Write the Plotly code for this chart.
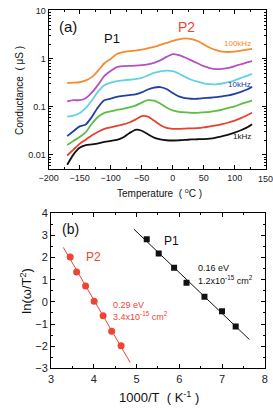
import numpy as np
import plotly.graph_objects as go

# ---------------- data: panel (a) ----------------
temps = [-170, -160, -150, -140, -130, -120, -110, -100, -90, -80, -70, -60, -50, -40, -30,
         -20, -10, 0, 10, 20, 30, 40, 50, 60, 70, 80, 90, 100, 110, 120, 128]

g_1k = [0.0062, 0.0101, 0.0140, 0.0159, 0.0165, 0.0173, 0.0186, 0.0195, 0.0204, 0.0229, 0.0282,
        0.0332, 0.0317, 0.0269, 0.0229, 0.0209, 0.0201, 0.0199, 0.0201, 0.0204, 0.0209, 0.0211,
        0.0213, 0.0218, 0.0229, 0.0245, 0.0263, 0.0289, 0.0325, 0.0373, 0.0435]
g_f2 = [0.0097, 0.0128, 0.0169, 0.0207, 0.0257, 0.0303, 0.0348, 0.0373, 0.0400, 0.0429, 0.0471,
        0.0541, 0.0637, 0.0622, 0.0516, 0.0419, 0.0365, 0.0348, 0.0348, 0.0352, 0.0356, 0.0361,
        0.0373, 0.0391, 0.0409, 0.0435, 0.0471, 0.0516, 0.0580, 0.0667, 0.0749]
g_f3 = [0.0161, 0.0195, 0.0234, 0.0296, 0.0449, 0.0622, 0.0749, 0.0804, 0.0861, 0.0903, 0.0968,
        0.106, 0.122, 0.137, 0.134, 0.117, 0.0968, 0.0842, 0.0785, 0.0767, 0.0749, 0.0749,
        0.0767, 0.0785, 0.0822, 0.0873, 0.0946, 0.102, 0.114, 0.125, 0.135]
g_10k = [0.0245, 0.0310, 0.0391, 0.0429, 0.0622, 0.0991, 0.137, 0.147, 0.161, 0.169, 0.175,
         0.181, 0.199, 0.229, 0.251, 0.257, 0.234, 0.194, 0.165, 0.151, 0.147, 0.147, 0.151,
         0.154, 0.158, 0.165, 0.173, 0.186, 0.204, 0.229, 0.260]
g_f5 = [0.0622, 0.0652, 0.0732, 0.0946, 0.137, 0.209, 0.282, 0.317, 0.343, 0.356, 0.365, 0.378,
        0.400, 0.449, 0.505, 0.546, 0.567, 0.554, 0.493, 0.419, 0.365, 0.332, 0.307, 0.296,
        0.293, 0.305, 0.324, 0.356, 0.400, 0.439, 0.482]
g_f6 = [0.129, 0.137, 0.137, 0.151, 0.199, 0.289, 0.439, 0.554, 0.667, 0.699, 0.709, 0.716,
        0.732, 0.767, 0.823, 0.924, 1.09, 1.25, 1.19, 1.06, 0.924, 0.804, 0.699, 0.637, 0.608,
        0.617, 0.643, 0.699, 0.767, 0.842, 0.895]
g_100k = [0.313, 0.317, 0.324, 0.353, 0.419, 0.567, 0.804, 0.99, 1.25, 1.37, 1.44, 1.47, 1.54,
          1.65, 1.77, 1.94, 2.13, 2.34, 2.54, 2.66, 2.57, 2.34, 1.99, 1.69, 1.51, 1.40, 1.38,
          1.40, 1.47, 1.54, 1.61]

series_a = [g_1k, g_f2, g_f3, g_10k, g_f5, g_f6, g_100k]
colors_a = ["#111111", "#E8412E", "#5CBF45", "#2140A0", "#62D2E2", "#B452C4", "#F58A2E"]
x_ticks_a = [-200, -150, -100, -50, 0, 50, 100, 150]

# ---------------- data: panel (b) ----------------
p2_x = [3.45, 3.60, 3.81, 4.01, 4.22, 4.42, 4.64]
p2_y = [2.02, 1.35, 0.71, 0.03, -0.63, -1.32, -1.98]
p2_fit_range = [3.29, 4.85]
p1_x = [5.24, 5.52, 5.88, 6.17, 6.59, 7.00, 7.32]
p1_y = [2.82, 2.18, 1.54, 0.86, 0.23, -0.42, -1.11]
p1_fit_range = [4.94, 7.64]

FONT = "Liberation Sans, Arial, sans-serif"
RED = "#EE4433"

fig = go.Figure()

for ys, c in zip(series_a, colors_a):
    fig.add_trace(go.Scatter(x=temps, y=ys, mode="lines", line=dict(color=c, width=1.8, shape="spline", smoothing=0.6),
                             xaxis="x", yaxis="y", showlegend=False, hoverinfo="skip"))

# panel b fits (least squares through the points)
for xs, ys, rng, col in [(p2_x, p2_y, p2_fit_range, RED), (p1_x, p1_y, p1_fit_range, "#111111")]:
    k, b = np.polyfit(xs, ys, 1)
    fx = np.array(rng)
    fig.add_trace(go.Scatter(x=fx, y=k * fx + b, mode="lines", line=dict(color=col, width=1),
                             xaxis="x2", yaxis="y2", showlegend=False, hoverinfo="skip"))

fig.add_trace(go.Scatter(x=p2_x, y=p2_y, mode="markers", marker=dict(color=RED, size=7, symbol="circle"),
                         xaxis="x2", yaxis="y2", showlegend=False))
fig.add_trace(go.Scatter(x=p1_x, y=p1_y, mode="markers", marker=dict(color="#111111", size=6, symbol="square"),
                         xaxis="x2", yaxis="y2", showlegend=False))

W, H = 273, 413
def px_x(v):
    return v / W
def px_y(v):
    return 1 - v / H

axis_common = dict(showline=True, linecolor="black", linewidth=1, mirror="ticks", ticks="inside",
                   ticklen=4, tickcolor="black", showgrid=False, zeroline=False,
                   tickfont=dict(family=FONT, size=9, color="#222"))

fig.update_layout(
    width=W, height=H, margin=dict(l=0, r=0, t=0, b=0),
    paper_bgcolor="white", plot_bgcolor="white",
    xaxis=dict(domain=[px_x(40.5), px_x(268.5)], anchor="y", range=[-200, 150],
               tickvals=x_ticks_a[:-1],
               minor=dict(ticks="inside", ticklen=2, dtick=25, tickcolor="black"), **axis_common),
    yaxis=dict(domain=[px_y(167.7), px_y(4.5)], anchor="x", type="log", range=[-2.291, 1.006],
               tickvals=[0.01, 0.1, 1, 10], ticktext=["0.01", "0.1", "1", "10"],
               minor=dict(ticks="inside", ticklen=2, tickcolor="black",
                          tickvals=[a * 10 ** e for e in (-3, -2, -1, 0) for a in range(2, 10)]),
               **axis_common),
    xaxis2=dict(domain=[px_x(43), px_x(267.5)], anchor="y2", range=[3, 8], dtick=1,
                minor=dict(ticks="inside", ticklen=2, dtick=0.5, tickcolor="black"),
                **{**axis_common, "tickfont": dict(family=FONT, size=11, color="#222")}),
    yaxis2=dict(domain=[px_y(373.3), px_y(213.3)], anchor="x2", range=[-3, 4], dtick=1,
                minor=dict(ticks="inside", ticklen=2, dtick=0.5, tickcolor="black"),
                **{**axis_common, "tickfont": dict(family=FONT, size=11, color="#222")}),
)

ann = []
def A(text, x, y, xref, yref, size, color="#111", xanchor="center", yanchor="middle", angle=0):
    ann.append(dict(text=text, x=x, y=y, xref=xref, yref=yref, showarrow=False,
                    font=dict(family=FONT, size=size, color=color), xanchor=xanchor, yanchor=yanchor,
                    textangle=angle))

# last x tick label of panel a (clipped at the page edge, as in the original)
A(str(x_ticks_a[-1]), x_ticks_a[-1], px_y(178), "x", "paper", 9, color="#222", yanchor="middle")

# panel a texts
A("(a)", px_x(61), px_y(21.5), "paper", "paper", 15)
A("P1", -97, np.log10(2.6), "x", "y", 13)
A("P2", 22, np.log10(4.6), "x", "y", 14, color=RED)
A("100kHz", 129, np.log10(2.1), "x", "y", 8, color="#F58A2E", xanchor="right")
A("10kHz", 129, np.log10(0.293), "x", "y", 8, color="#2140A0", xanchor="right")
A("1kHz", 129, np.log10(0.0245), "x", "y", 8, color="#111111", xanchor="right")
A("Conductance\u00a0\u00a0(\u00a0\u03bcS\u00a0)", px_x(10), px_y(87), "paper", "paper", 10, angle=-90)
A("Temperature\u00a0\u00a0(\u00a0<sup>o</sup>C\u00a0)", px_x(157), px_y(193), "paper", "paper", 10)

# panel b texts
A("(b)", px_x(63.5), px_y(230), "paper", "paper", 14)
A("P2", 4.0, 2.0, "x2", "y2", 12, color=RED)
A("0.29 eV", 4.41, -0.12, "x2", "y2", 9, color=RED, xanchor="left")
A("3.4x10<sup>-15</sup> cm<sup>2</sup>", 4.41, -0.65, "x2", "y2", 9, color=RED, xanchor="left")
A("P1", 5.82, 2.75, "x2", "y2", 12)
A("0.16 eV", 6.39, 1.51, "x2", "y2", 9, xanchor="left")
A("1.2x10<sup>-15</sup> cm<sup>2</sup>", 6.39, 1.0, "x2", "y2", 9, xanchor="left")
A("ln(\u03c9/T<sup>2</sup>)", px_x(17), px_y(293), "paper", "paper", 13, angle=-90)
A("1000/T\u00a0\u00a0(\u00a0K<sup>-1</sup>\u00a0)", px_x(156), px_y(403), "paper", "paper", 13)

fig.update_layout(annotations=ann)
fig.write_html("out.html")
